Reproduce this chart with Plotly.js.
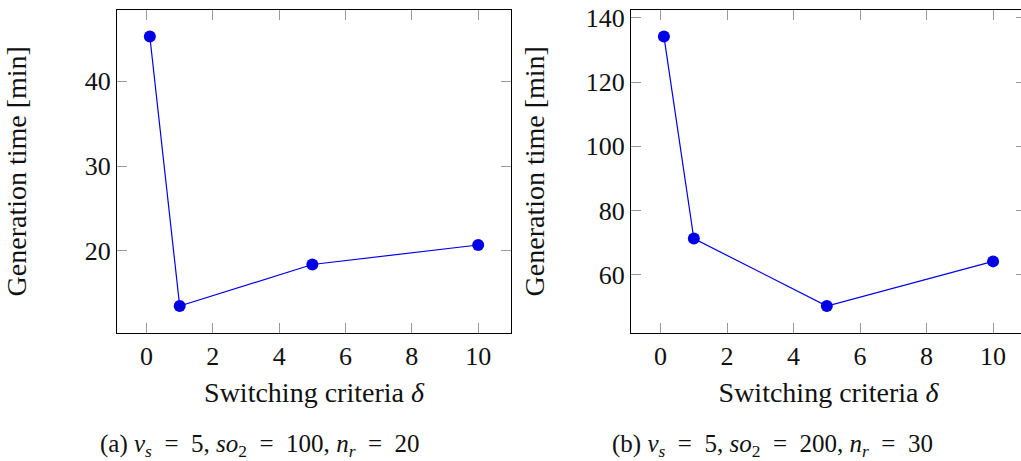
<!DOCTYPE html>
<html><head><meta charset="utf-8">
<script src="https://cdn.plot.ly/plotly-3.0.1.min.js"></script>
<style>html,body{margin:0;padding:0;overflow:hidden;background:#fff}#c{width:1030px;height:461px}</style>
</head><body><div id="c"></div>
<script>
// Data
const deltaA = [0.1, 1, 5, 10];
const timeA = [45.3, 13.5, 18.4, 20.7];
const deltaB = [0.1, 1, 5, 10];
const timeB = [134.2, 71.3, 50.3, 64.2];
const xTicks = [0, 2, 4, 6, 8, 10];
const yTicksA = [20, 30, 40];
const yTicksB = [60, 80, 100, 120, 140];
const xTitle = 'Switching criteria <i>δ</i>';
const yTitle = 'Generation time [min]';
const EQ = '\u2002=\u2002';
const captionA = '(a) <i>v<sub>s</sub></i>' + EQ + '5, <i>so</i><sub>2</sub>' + EQ + '100, <i>n<sub>r</sub></i>' + EQ + '20';
const captionB = '(b) <i>v<sub>s</sub></i>' + EQ + '5, <i>so</i><sub>2</sub>' + EQ + '200, <i>n<sub>r</sub></i>' + EQ + '30';

const W = 1030, H = 461;
const blue = '#0000e6';

function trace(x, y, xa, ya) {
  return {x: x, y: y, xaxis: xa, yaxis: ya, type: 'scatter', mode: 'lines+markers',
    line: {color: blue, width: 1.2}, marker: {color: blue, size: 12}, cliponaxis: false, hoverinfo: 'skip'};
}
function enlarge(arr) {
  const mn = Math.min(...arr), mx = Math.max(...arr), d = (mx - mn) * 0.1;
  return [mn - d, mx + d];
}
function xAxis(dom, rng, anchor) {
  return {domain: dom, range: rng, anchor: anchor,
    showgrid: false, zeroline: false, showline: true, linecolor: '#000', linewidth: 1, mirror: 'ticks',
    ticks: 'inside', ticklen: 10, tickcolor: '#999', tickwidth: 1,
    tickfont: {size: 26}, tickvals: xTicks, ticktext: xTicks.map(String),
    title: {text: xTitle, font: {size: 28}, standoff: 12}, automargin: false};
}
function yAxis(dom, rng, anchor, tv, standoff) {
  return {domain: dom, range: rng, anchor: anchor,
    showgrid: false, zeroline: false, showline: true, linecolor: '#000', linewidth: 1, mirror: 'ticks',
    ticks: 'inside', ticklen: 10, tickcolor: '#999', tickwidth: 1,
    tickfont: {size: 26}, tickvals: tv, ticktext: tv.map(String),
    title: {text: yTitle, font: {size: 28}, standoff: standoff}, automargin: false};
}
const ydom = [(H - 333) / H, (H - 9.5) / H];
const layout = {
  width: W, height: H, margin: {l: 0, r: 0, t: 0, b: 0}, showlegend: false,
  paper_bgcolor: '#fff', plot_bgcolor: '#fff',
  font: {family: 'Liberation Serif', size: 24, color: '#111'},
  xaxis: xAxis([117 / W, 511 / W], enlarge(deltaA), 'y'),
  yaxis: yAxis(ydom, enlarge(timeA), 'x', yTicksA, 49),
  xaxis2: xAxis([631 / W, 1026 / W], enlarge(deltaB), 'y2'),
  yaxis2: yAxis(ydom, enlarge(timeB), 'x2', yTicksB, 32),
  annotations: [
    {text: captionA, xref: 'paper', yref: 'paper', x: 260 / W, y: (H - 445) / H, xanchor: 'center', yanchor: 'middle', showarrow: false, font: {size: 25}},
    {text: captionB, xref: 'paper', yref: 'paper', x: 772 / W, y: (H - 445) / H, xanchor: 'center', yanchor: 'middle', showarrow: false, font: {size: 25}}
  ]
};
Plotly.newPlot('c', [trace(deltaA, timeA, 'x', 'y'), trace(deltaB, timeB, 'x2', 'y2')], layout, {staticPlot: true, displayModeBar: false});
</script></body></html>
